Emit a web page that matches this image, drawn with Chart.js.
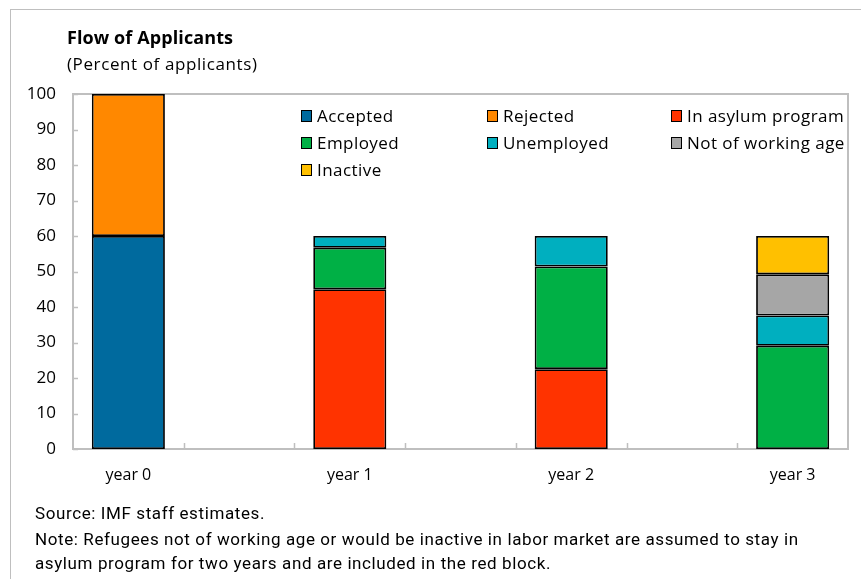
<!DOCTYPE html>
<html>
<head>
<meta charset="utf-8">
<script src="https://cdn.jsdelivr.net/npm/chart.js@4.4.1/dist/chart.umd.min.js"></script>
<style>
  html, body { margin: 0; padding: 0; background: #fff; }
  body { width: 861px; height: 579px; position: relative; overflow: hidden; font-family: "Open Sans", "Noto Sans", sans-serif; color: #000; }
  #frame { position: absolute; left: 10px; top: 9px; width: 860px; height: 620px; border: 1px solid #bfbfbf; box-sizing: border-box; }
  #chartWrap { position: absolute; left: 0; top: 0; width: 861px; height: 579px; }
  .txt { position: absolute; white-space: nowrap; line-height: 1; }
  #title { left: 67px; top: 28px; font-weight: bold; font-size: 18px; letter-spacing: 0.1px; }
  #subtitle { left: 67px; top: 55px; font-size: 17px; letter-spacing: 0.6px; }
  #legend { position: absolute; left: 301px; top: 105px; }
  .lg { position: absolute; font-size: 17px; line-height: 22px; white-space: nowrap; letter-spacing: 0.45px; }
  .lg i { position: absolute; left: 0; top: 5px; width: 9px; height: 10px; border: 1.5px solid #000; }
  .lg span { position: absolute; left: 16px; top: 0; }
  .note { left: 35px; font-size: 17px; letter-spacing: 0.6px; font-family: "Liberation Sans Narrow", "Roboto", sans-serif; }
</style>
</head>
<body>
<div id="frame"></div>
<div id="chartWrap"><canvas id="flowChart" width="861" height="579"></canvas></div>
<div class="txt" id="title">Flow of Applicants</div>
<div class="txt" id="subtitle">(Percent of applicants)</div>
<div id="legend"></div>
<div class="txt note" style="top:505px">Source: IMF staff estimates.</div>
<div class="txt note" style="top:531px">Note: Refugees not of working age or would be inactive in labor market are assumed to stay in</div>
<div class="txt note" style="top:555px">asylum program for two years and are included in the red block.</div>

<script>
// ------------------------------------------------------------
// DATA
// ------------------------------------------------------------
const categories = ["year 0", "", "year 1", "", "year 2", "", "year 3"];

const accepted     = [60,   null, null, null, null, null, null];
const rejected     = [40,   null, null, null, null, null, null];
const inAsylum     = [null, null, 45,   null, 22.5, null, null];
const employed     = [null, null, 11.7, null, 28.9, null, 29.1];
const unemployed   = [null, null, 3.3,  null, 8.6,  null, 8.5];
const notWorkAge   = [null, null, null, null, null, null, 11.6];
const inactive     = [null, null, null, null, null, null, 10.8];

const yTicks = [0, 10, 20, 30, 40, 50, 60, 70, 80, 90, 100];

const series = [
  { label: "Accepted",           data: accepted,   color: "#006a9e" },
  { label: "Rejected",           data: rejected,   color: "#ff8800" },
  { label: "In asylum program",  data: inAsylum,   color: "#ff3300" },
  { label: "Employed",           data: employed,   color: "#00b045" },
  { label: "Unemployed",         data: unemployed, color: "#00afbf" },
  { label: "Not of working age", data: notWorkAge, color: "#a6a6a6" },
  { label: "Inactive",           data: inactive,   color: "#ffc000" }
];

// ------------------------------------------------------------
// LEGEND (html, laid out in three columns)
// ------------------------------------------------------------
const legendCols = [0, 186, 370];
const legendRowH = 27;
const legendEl = document.getElementById("legend");
series.forEach((s, i) => {
  const div = document.createElement("div");
  div.className = "lg";
  div.style.left = legendCols[i % 3] + "px";
  div.style.top = Math.floor(i / 3) * legendRowH + "px";
  div.innerHTML = `<i style="background:${s.color}"></i><span>${s.label}</span>`;
  legendEl.appendChild(div);
});

// ------------------------------------------------------------
// PLOT FRAME + INWARD TICKS
// ------------------------------------------------------------
const frameTicks = {
  id: "frameTicks",
  beforeDatasetsDraw(chart) {
    const { ctx, chartArea: a, scales } = chart;
    ctx.save();
    ctx.strokeStyle = "#bfbfbf";
    ctx.lineWidth = 2;
    ctx.strokeRect(a.left, a.top, a.right - a.left, a.bottom - a.top);

    ctx.lineWidth = 1.5;
    // y ticks point into the plot
    yTicks.forEach(v => {
      const y = Math.round(scales.y.getPixelForValue(v)) + 0.5;
      ctx.beginPath();
      ctx.moveTo(a.left, y);
      ctx.lineTo(a.left + 5, y);
      ctx.stroke();
    });

    // x ticks between categories
    const x = scales.x;
    for (let i = 1; i < categories.length; i++) {
      const px = Math.round((x.getPixelForValue(i - 1) + x.getPixelForValue(i)) / 2) + 0.5;
      ctx.beginPath();
      ctx.moveTo(px, a.bottom);
      ctx.lineTo(px, a.bottom - 6);
      ctx.stroke();
    }
    ctx.restore();
  }
};

// ------------------------------------------------------------
// CHART
// ------------------------------------------------------------
new Chart(document.getElementById("flowChart"), {
  type: "bar",
  data: {
    labels: categories,
    datasets: series.map(s => ({
      label: s.label,
      data: s.data,
      backgroundColor: s.color,
      borderColor: "#000",
      borderWidth: 1.8,
      borderSkipped: false,
      categoryPercentage: 1,
      barPercentage: 0.66
    }))
  },
  options: {
    responsive: false,
    animation: false,
    layout: { padding: { top: 94, right: 13, left: 0, bottom: 0 } },
    plugins: {
      legend: { display: false },
      tooltip: { enabled: false }
    },
    scales: {
      x: {
        stacked: true,
        grid: { display: false, drawTicks: false },
        border: { display: false },
        ticks: {
          color: "#000",
          padding: 17,
          maxRotation: 0,
          autoSkip: false,
          font: { family: "Open Sans", size: 16 }
        },
        afterFit: s => { s.height = 130; }
      },
      y: {
        stacked: true,
        min: 0,
        max: 100,
        grid: { display: false, drawTicks: false },
        border: { display: false },
        ticks: {
          stepSize: 10,
          color: "#000",
          padding: 17,
          font: { family: "Open Sans", size: 17 }
        },
        afterFit: s => { s.width = 73; }
      }
    }
  },
  plugins: [frameTicks]
});
</script>
</body>
</html>
